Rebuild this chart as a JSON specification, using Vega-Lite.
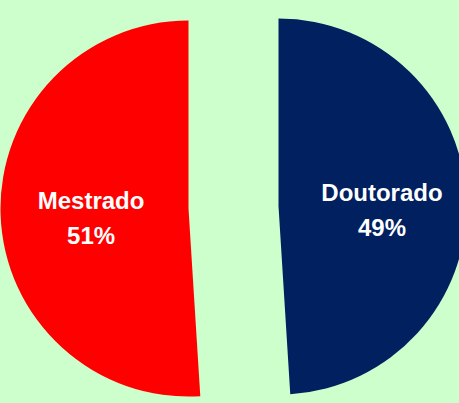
{
  "$schema": "https://vega.github.io/schema/vega-lite/v6.json",
  "width": 459,
  "height": 403,
  "autosize": {"type": "fit", "contains": "padding"},
  "padding": 0,
  "background": "#CCFFCC",
  "config": {"view": {"stroke": null}},
  "data": {
    "values": [
      {"nivel": "Doutorado", "pct": 49, "label": "Doutorado\n49%"},
      {"nivel": "Mestrado", "pct": 51, "label": "Mestrado\n51%"}
    ]
  },
  "encoding": {
    "theta": {"field": "pct", "type": "quantitative", "stack": true},
    "order": {"field": "nivel", "sort": "ascending"}
  },
  "layer": [
    {
      "mark": {"type": "arc", "radius": 188, "xOffset": -33.5, "yOffset": 7},
      "encoding": {
        "color": {"field": "nivel", "type": "nominal", "scale": {"domain": ["Mestrado", "Doutorado"], "range": ["#FF0000", "#002060"]}, "legend": null},
        "opacity": {"condition": {"test": "datum.nivel == 'Mestrado'", "value": 1}, "value": 0}
      }
    },
    {
      "mark": {"type": "arc", "radius": 188, "xOffset": 56.5, "yOffset": 5},
      "encoding": {
        "color": {"field": "nivel", "type": "nominal", "scale": {"domain": ["Mestrado", "Doutorado"], "range": ["#FF0000", "#002060"]}, "legend": null},
        "opacity": {"condition": {"test": "datum.nivel == 'Doutorado'", "value": 1}, "value": 0}
      }
    },
    {
      "mark": {"type": "text", "radius": 100, "xOffset": -31, "yOffset": -3, "lineBreak": "\n", "lineHeight": 35, "font": "Liberation Sans", "fontWeight": "bold", "fontSize": 24, "color": "white", "align": "center", "baseline": "middle"},
      "encoding": {
        "text": {"field": "label"},
        "opacity": {"condition": {"test": "datum.nivel == 'Mestrado'", "value": 1}, "value": 0}
      }
    },
    {
      "mark": {"type": "text", "radius": 102, "xOffset": 58, "yOffset": -4, "lineBreak": "\n", "lineHeight": 35, "font": "Liberation Sans", "fontWeight": "bold", "fontSize": 24, "color": "white", "align": "center", "baseline": "middle"},
      "encoding": {
        "text": {"field": "label"},
        "opacity": {"condition": {"test": "datum.nivel == 'Doutorado'", "value": 1}, "value": 0}
      }
    }
  ]
}
